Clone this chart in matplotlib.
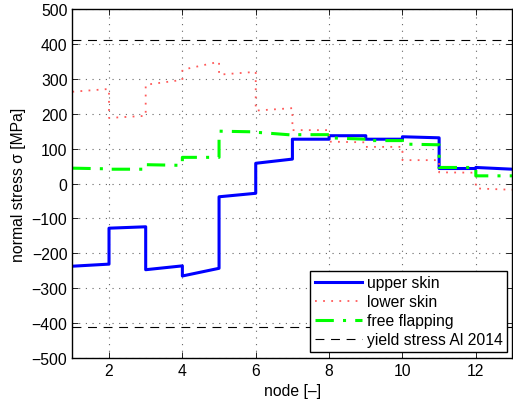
import numpy as np
import matplotlib
matplotlib.use("Agg")
import matplotlib.pyplot as plt

# stress per element: value at start node and end node (MPa)
nodes = np.arange(1, 14)
upper_start = [-237, -128, -247, -265, -38, 58, 127, 137, 127, 134, 43, 46]
upper_end = [-231, -124, -236, -243, -28, 70, 127, 137, 127, 131, 43, 41]
lower_start = [263, 188, 283, 326, 312, 209, 153, 120, 105, 67, 32, -14]
lower_end = [271, 194, 297, 349, 320, 216, 153, 118, 105, 67, 31, -18]
flap_start = [44, 41, 54, 75, 150, 147, 140, 131, 123, 113, 46, 22]
flap_end = [42, 41, 52, 75, 148, 139, 140, 127, 123, 111, 46, 22]
yield_stress = 410


def element_line(start, end):
    """x/y for piecewise linear stress with jumps at the nodes."""
    x, y = [], []
    for i in range(len(start)):
        x += [nodes[i], nodes[i + 1]]
        y += [start[i], end[i]]
    return np.array(x), np.array(y)


plt.rcParams['font.family'] = ['Liberation Sans', 'DejaVu Sans']
plt.rcParams['font.size'] = 11.3

fig = plt.figure(figsize=(5.13, 4.02), dpi=100)
ax = fig.add_axes([0.141, 0.107, 0.858, 0.868])

x, y = element_line(upper_start, upper_end)
ax.plot(x, y, color='#0000ff', lw=2.2, label='upper skin')
x, y = element_line(lower_start, lower_end)
ax.plot(x, y, color='#ff5a5a', lw=1.3, ls=(0, (1, 3.5)), label='lower skin')
x, y = element_line(flap_start, flap_end)
ax.plot(x, y, color='#00ff00', lw=2.2, ls=(0, (6, 3, 1, 3)), label='free flapping')
ax.plot([1, 13], [yield_stress, yield_stress], color='k', lw=0.8,
        ls=(0, (8, 6)), label='yield stress Al 2014')
ax.plot([1, 13], [-yield_stress, -yield_stress], color='k', lw=0.8,
        ls=(0, (8, 6)))

ax.set_xlim(1, 13)
ax.set_ylim(-500, 500)
ax.set_xticks(range(2, 13, 2))
ax.set_yticks(range(-500, 501, 100))
ax.tick_params(direction='in', top=True, right=True, length=4, width=0.6)
ax.grid(True, ls=(0, (1, 5)), color='0.4', lw=0.8)
for s in ax.spines.values():
    s.set_linewidth(1.0)

ax.set_xlabel('node [–]')
ax.set_ylabel('normal stress σ [MPa]')

leg = ax.legend(loc='lower right', bbox_to_anchor=(0.988, 0.018),
                fancybox=False, edgecolor='k', framealpha=1,
                handlelength=3.0, labelspacing=0.25, borderpad=0.3,
                handletextpad=0.3, borderaxespad=0)
leg.get_frame().set_linewidth(1.0)

fig.savefig('out.png', dpi=100)
